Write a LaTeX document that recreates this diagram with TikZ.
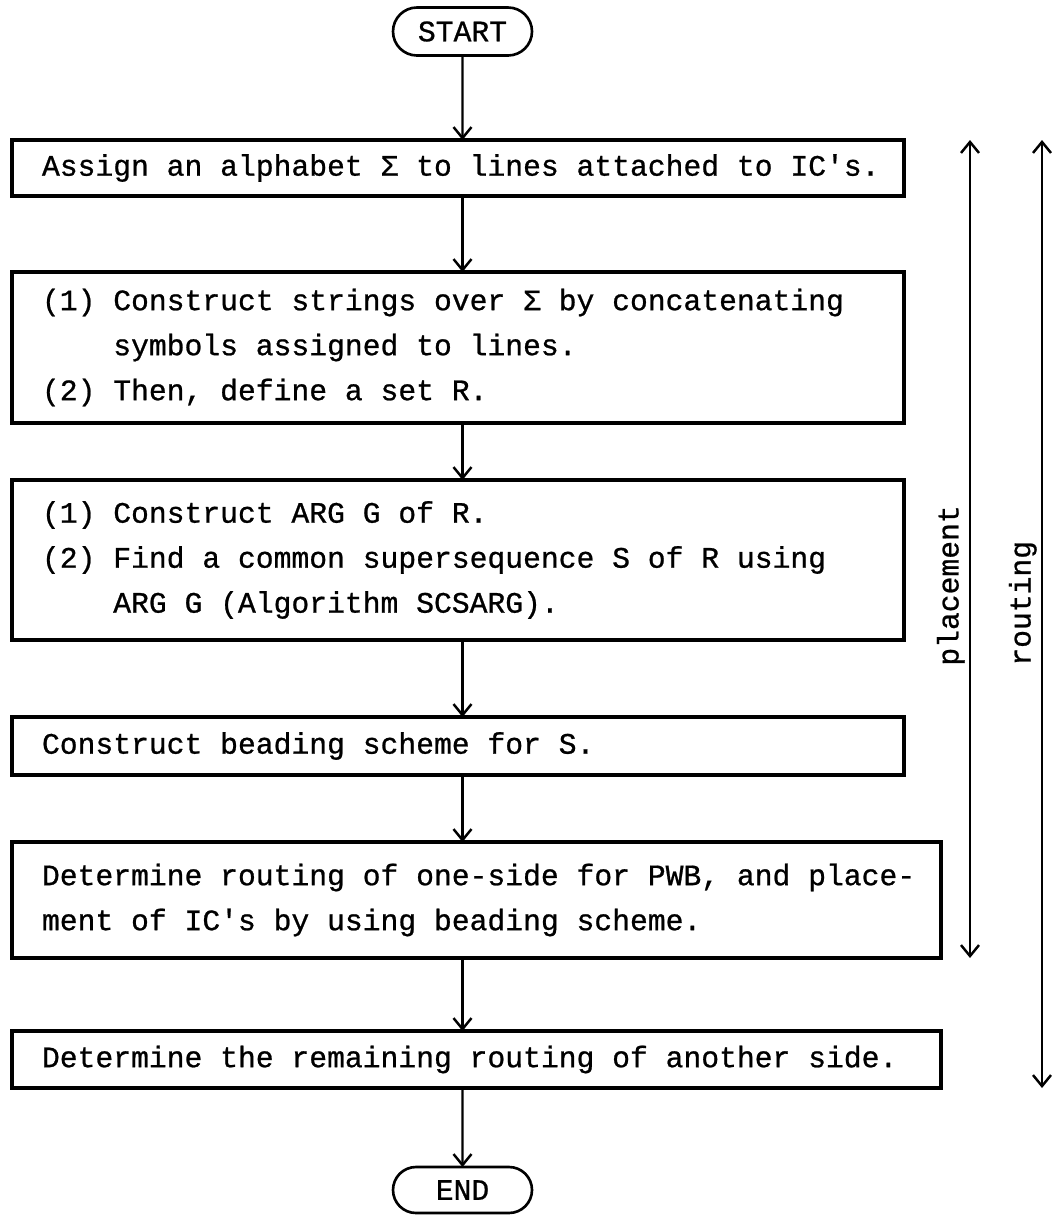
\documentclass[tikz,border=0pt]{standalone}
\usepackage{fontspec}
\setmonofont{Liberation Mono}[FakeBold=0.8]
\usepackage{tikz}
\usetikzlibrary{arrows.meta,positioning,calc,shapes.misc}
\newcommand{\typedline}[1]{\mbox{\spaceskip=0.6em\relax#1}}

\begin{document}
\begin{tikzpicture}[
font=\ttfamily\fontsize{16.9}{25.6}\selectfont,
terminal/.style={draw,rounded rectangle,line width=1.5pt,minimum width=27.8mm,minimum height=9.6mm,inner sep=0pt,outer sep=0pt},
proc/.style={draw,rectangle,line width=1.8pt,align=left,inner xsep=6mm,inner ysep=0pt,outer sep=0pt,text width=166.4mm},
wide/.style={text width=173.8mm},
arr/.style={-{Straight Barb[length=2.2mm,width=3.6mm]},line width=1.4pt},
span/.style={{Straight Barb[length=2.2mm,width=3.6mm]}-{Straight Barb[length=2.2mm,width=3.6mm]},line width=1.4pt},
lbl/.style={rotate=90,anchor=south west,inner sep=1mm}
]
\useasboundingbox[fill=white] (0,0) rectangle (212mm,-243mm);

\node[terminal] (start) at (92.5mm,-6.3mm) {START};
\node[proc,anchor=north west,minimum height=11.2mm] (assign) at (2.4mm,-28mm) {\typedline{Assign an alphabet Σ to lines attached to IC's.}};
\node[proc,below=15.2mm of assign.south west,anchor=north west,minimum height=30.2mm] (strings) {\typedline{(1) Construct strings over Σ by concatenating}\\\typedline{\hspace*{2.4em}symbols assigned to lines.}\\\typedline{(2) Then, define a set R.}};
\node[proc,below=11.4mm of strings.south west,anchor=north west,minimum height=32mm] (superseq) {\typedline{(1) Construct ARG G of R.}\\\typedline{(2) Find a common supersequence S of R using}\\\typedline{\hspace*{2.4em}ARG G (Algorithm SCSARG).}};
\node[proc,below=15.4mm of superseq.south west,anchor=north west,minimum height=11.6mm] (beading) {\typedline{Construct beading scheme for S.}};
\node[proc,wide,below=13.4mm of beading.south west,anchor=north west,minimum height=23.2mm] (placerout) {\typedline{Determine routing of one-side for PWB, and place-}\\\typedline{ment of IC's by using beading scheme.}};
\node[proc,wide,below=14.6mm of placerout.south west,anchor=north west,minimum height=11.4mm] (remaining) {\typedline{Determine the remaining routing of another side.}};
\node[terminal,anchor=north,minimum height=9.2mm] (end) at ($(remaining.south -| start)+(0,-15.8mm)$) {END};

\draw[arr] (start) -- (start |- assign.north);
\draw[arr] (start |- assign.south) -- (start |- strings.north);
\draw[arr] (start |- strings.south) -- (start |- superseq.north);
\draw[arr] (start |- superseq.south) -- (start |- beading.north);
\draw[arr] (start |- beading.south) -- (start |- placerout.north);
\draw[arr] (start |- placerout.south) -- (start |- remaining.north);
\draw[arr] (start |- remaining.south) -- (end);

\coordinate (pl) at (194mm,0);
\coordinate (rt) at (208.4mm,0);
\draw[span] (assign.north -| pl) -- (placerout.south -| pl);
\draw[span] (assign.north -| rt) -- (remaining.south -| rt);
\node[lbl] (placelbl) at (194mm,-134.2mm) {placement};
\node[lbl] (routelbl) at (208.4mm,-134.2mm) {routing};
\end{tikzpicture}
\end{document}
